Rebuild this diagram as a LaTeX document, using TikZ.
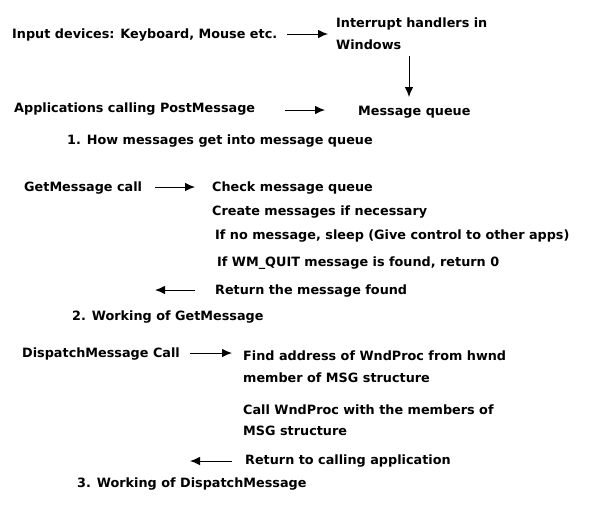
\documentclass[tikz,border=0pt]{standalone}
\usepackage{fontspec}
\setmainfont{DejaVu Sans}
\usetikzlibrary{arrows,arrows.meta}
\tikzstyle{txt}=[anchor=west, inner sep=0pt, align=left, yshift=-1.5pt,% plain text lines
font=\fontsize{12.8}{21.5}\selectfont\bfseries]
\tikzstyle{flow}=[-{Latex[length=10pt,width=8.5pt]}, line width=1pt]

\begin{document}
\begin{tikzpicture}[x=1pt,y=-1pt]
\useasboundingbox (0,0) rectangle (610,520);

% 1. into the queue
\node[txt] (input) at (12,34) {Input devices: Keyboard, Mouse etc.};
\node[txt] (irq) at (336,32) {Interrupt handlers in\\Windows};
\node[txt] (apps) at (14,108) {Applications calling PostMessage};
\node[txt] (queue) at (358,111) {Message queue};
\node[txt] (cap1) at (67,140) {1. How messages get into message queue};

\coordinate (a1s) at (287,34);
\coordinate (a1e) at (328,34);
\coordinate (a2s) at (409,56);
\coordinate (a2e) at (409,97);
\coordinate (a3s) at (285,110);
\coordinate (a3e) at (325,110);
\draw[flow] (a1s) -- (a1e);
\draw[flow] (a2s) -- (a2e);
\draw[flow] (a3s) -- (a3e);

% 2. GetMessage
\node[txt] (getmsg) at (24,187) {GetMessage call};
\node[txt] (check) at (212,187) {Check message queue};
\node[txt] (create) at (212,211) {Create messages if necessary};
\node[txt] (sleep) at (215,235) {If no message, sleep (Give control to other apps)};
\node[txt] (quit) at (217,262) {If WM\_QUIT message is found, return 0};
\node[txt] (ret) at (215,290) {Return the message found};
\node[txt] (cap2) at (72,316) {2. Working of GetMessage};

\coordinate (b1s) at (155,187);
\coordinate (b1e) at (195,187);
\coordinate (b2s) at (195,290);
\coordinate (b2e) at (155,290);
\draw[flow] (b1s) -- (b1e);
\draw[flow] (b2s) -- (b2e);

% 3. DispatchMessage
\node[txt] (dispatch) at (22,353) {DispatchMessage Call};
\node[txt] (find) at (243,365) {Find address of WndProc from hwnd\\member of MSG structure};
\node[txt] (callwp) at (243,418.5) {Call WndProc with the members of\\MSG structure};
\node[txt] (retapp) at (245,460) {Return to calling application};
\node[txt] (cap3) at (77,483) {3. Working of DispatchMessage};

\coordinate (c1s) at (190,353);
\coordinate (c1e) at (232,353);
\coordinate (c2s) at (232,461);
\coordinate (c2e) at (190,461);
\draw[flow] (c1s) -- (c1e);
\draw[flow] (c2s) -- (c2e);

\end{tikzpicture}
\end{document}
